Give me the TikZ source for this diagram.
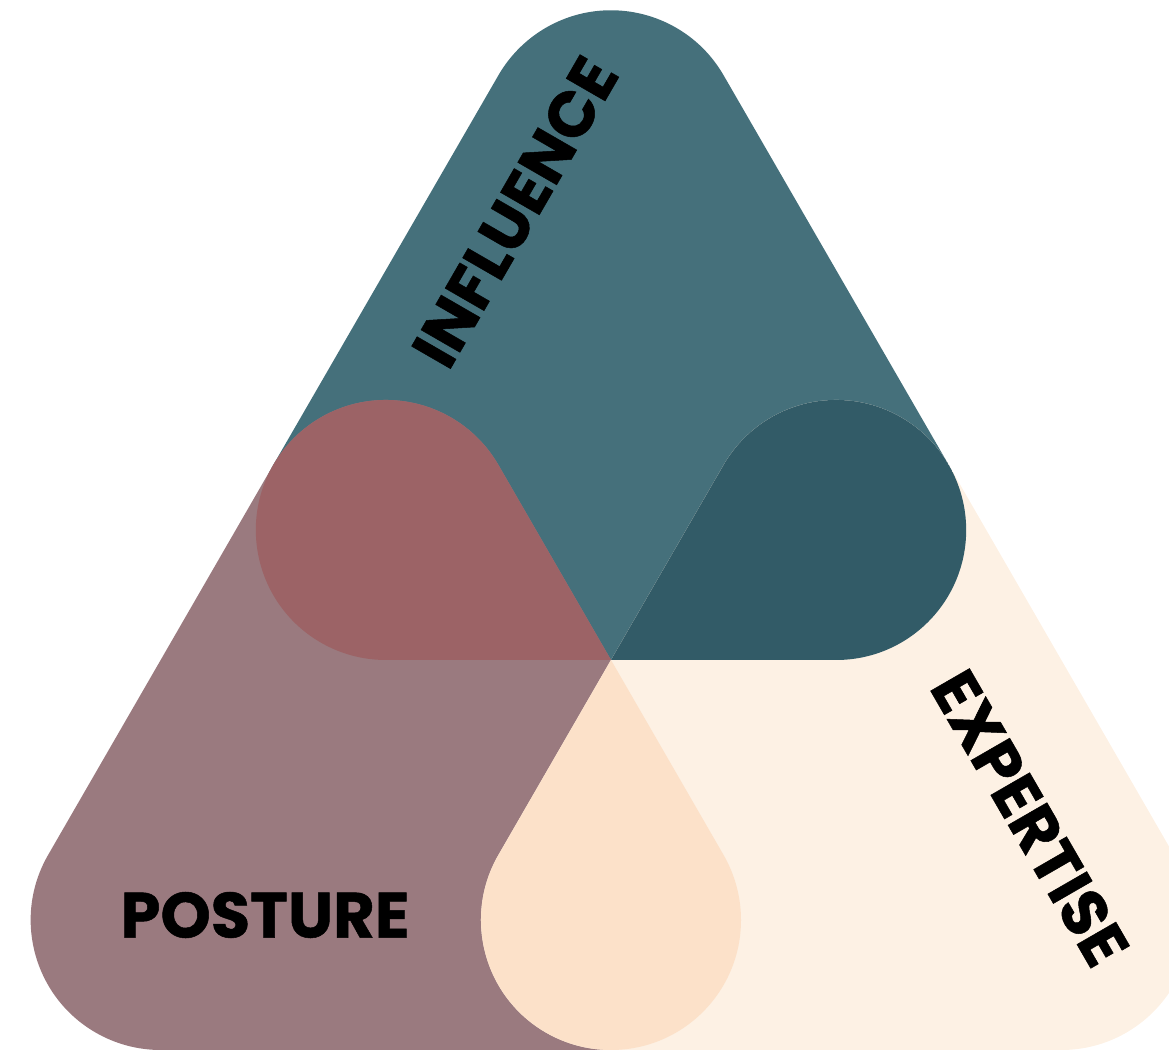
\documentclass[tikz,border=0pt]{standalone}
\usepackage{fontspec}
\setmainfont{Poppins}[BoldFeatures={FakeBold=0.8}]
\usetikzlibrary{calc}
\definecolor{tealc}{HTML}{45707B}
\definecolor{mauvec}{HTML}{9A7A7F}
\definecolor{creamc}{HTML}{FDF1E4}
\definecolor{redc}{HTML}{9C6366}
\definecolor{darktealc}{HTML}{325B67}
\definecolor{peachc}{HTML}{FCE1C9}
\begin{document}
\begin{tikzpicture}[x=1pt,y=1pt,
  hullpath/.style n args={3}{insert path={($(#3)+(-90:130pt)$) arc[start angle=-90,end angle=30,radius=130pt] -- ($(#1)+(30:130pt)$) arc[start angle=30,end angle=150,radius=130pt] -- ($(#2)+(150:130pt)$) arc[start angle=150,end angle=270,radius=130pt] -- cycle}},
  lbl/.style={font=\bfseries\fontsize{64}{64}\selectfont, text=black, inner sep=0pt}]
\useasboundingbox (0,0) rectangle (1169,1049);
\coordinate (T) at (611,908.71);
\coordinate (L) at (385.83,519);
\coordinate (R) at (836.17,519);
\coordinate (BL) at (160.67,129);
\coordinate (B) at (611,129);
\coordinate (BR) at (1061.33,129);
\begin{scope}
\clip (0,0) rectangle (1169,1049);
\fill[tealc, hullpath={T}{L}{R}];
\fill[mauvec, hullpath={L}{BL}{B}];
\fill[creamc, hullpath={R}{B}{BR}];
\begin{scope}
\clip[hullpath={T}{L}{R}];
\fill[redc, hullpath={L}{BL}{B}];
\fill[darktealc, hullpath={R}{B}{BR}];
\end{scope}
\begin{scope}
\clip[hullpath={L}{BL}{B}];
\fill[peachc, hullpath={R}{B}{BR}];
\end{scope}
\end{scope}
\node[lbl] (posture) at (265,134) {POSTURE};
\node[lbl, rotate=60] (influence) at (515,837) {INFLUENCE};
\node[lbl, rotate=-60] (expertise) at (1030,231) {EXPERTISE};
\end{tikzpicture}
\end{document}
